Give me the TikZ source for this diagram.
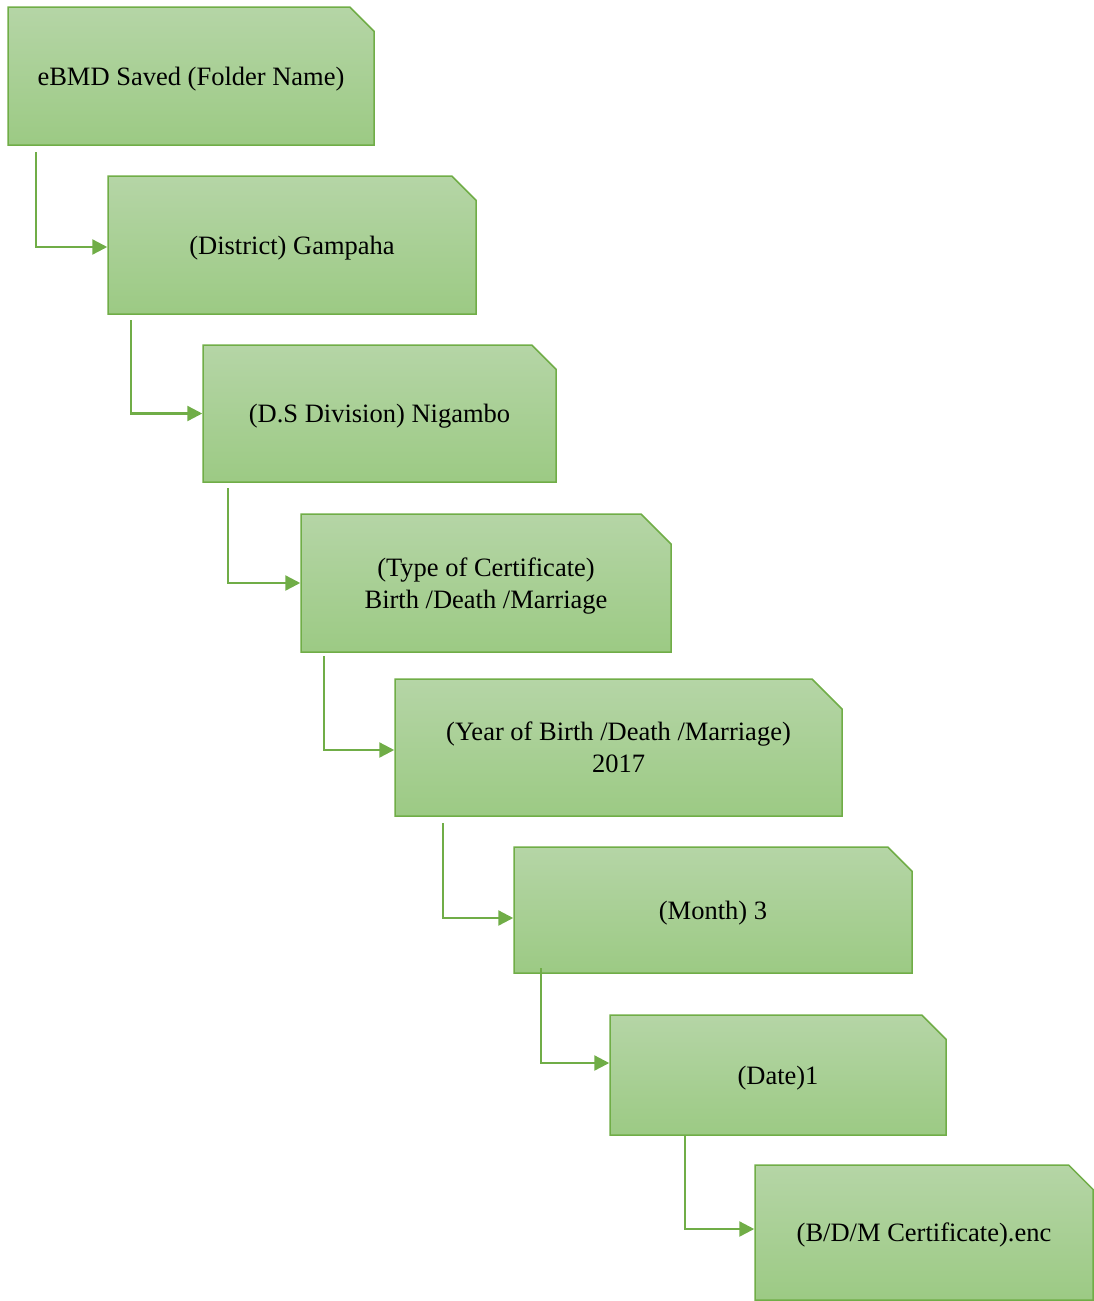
\documentclass[tikz,border=0pt]{standalone}
\usepackage{fontspec}
\setmainfont{Liberation Serif}
\usetikzlibrary{shapes.misc,arrows.meta}
\definecolor{gborder}{HTML}{70AD47}
\definecolor{gtop}{HTML}{B5D5A6}
\definecolor{gbot}{HTML}{9CCA84}
\tikzset{
  folder/.style={chamfered rectangle, chamfered rectangle corners=north east,
    chamfered rectangle xsep=15pt, chamfered rectangle ysep=15pt,
    draw=gborder, line width=1.5pt, top color=gtop, bottom color=gbot,
    inner sep=0pt, align=center, text depth=0pt, font=\fontsize{26.5}{32}\selectfont},
  link/.style={draw=gborder, line width=2.4pt, -{Triangle[length=15pt,width=15pt]}}
}
\begin{document}
\begin{tikzpicture}[x=1pt,y=-1pt]
\useasboundingbox (0,0) rectangle (1094,1301);
\node[folder, minimum width=366pt, minimum height=138pt] (b1) at (191,76) {eBMD Saved (Folder Name)};
\node[folder, minimum width=368pt, minimum height=138pt] (b2) at (292,245) {(District) Gampaha};
\node[folder, minimum width=353pt, minimum height=137pt] (b3) at (379.5,413.5) {(D.S Division) Nigambo};
\node[folder, minimum width=370pt, minimum height=138pt] (b4) at (486,583) {(Type of Certificate)\\Birth /Death /Marriage};
\node[folder, minimum width=447pt, minimum height=137pt] (b5) at (618.5,747.5) {(Year of Birth /Death /Marriage)\\2017};
\node[folder, minimum width=398pt, minimum height=126pt] (b6) at (713,910) {(Month) 3};
\node[folder, minimum width=336pt, minimum height=120pt] (b7) at (778,1075) {(Date)1};
\node[folder, minimum width=338pt, minimum height=135pt] (b8) at (924,1232.5) {(B/D/M Certificate).enc};
\coordinate (s1) at (36,152);
\coordinate (s2) at (131,320);
\coordinate (s3) at (228,488);
\coordinate (s4) at (324,656);
\coordinate (s5) at (443,823);
\coordinate (s6) at (541,968);
\coordinate (s7) at (685,1135);
\draw[link] (s1) |- ([yshift=-2pt]b2.west);
\draw[link] (s2) |- (b3.west);
\draw[link] (s3) |- (b4.west);
\draw[link] (s4) |- ([yshift=-2.5pt]b5.west);
\draw[link] (s5) |- ([yshift=-8pt]b6.west);
\draw[link] (s6) |- ([yshift=12pt]b7.west);
\draw[link] (s7) |- ([yshift=3.5pt]b8.west);
\end{tikzpicture}
\end{document}
